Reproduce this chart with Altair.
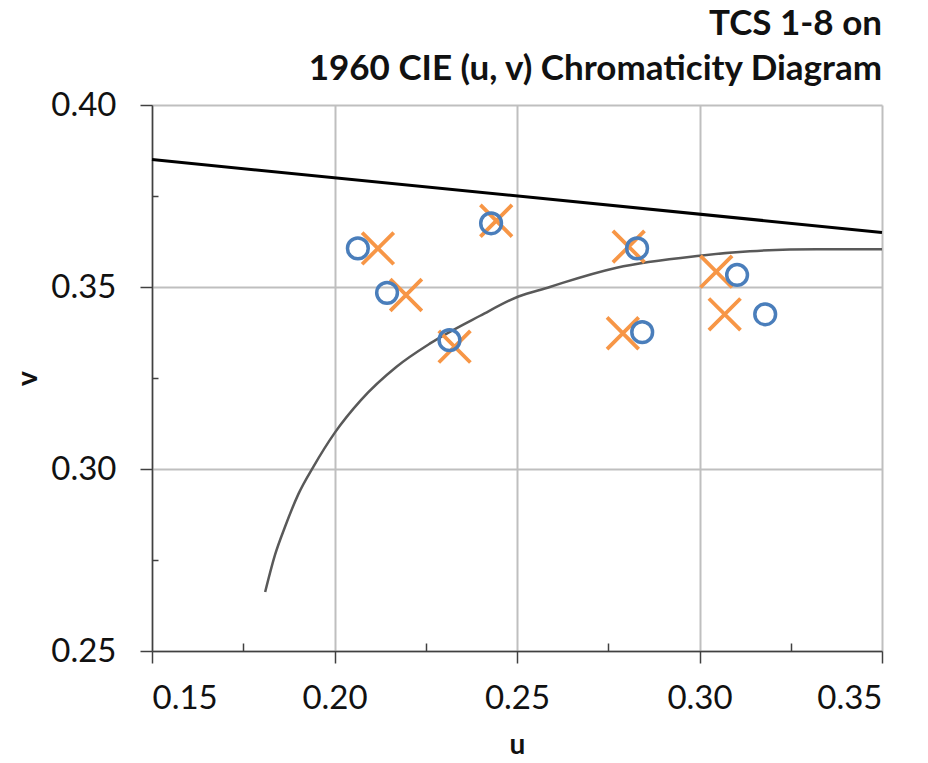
import altair as alt
import pandas as pd

# TCS 1-8 chromaticities (blue open circles)
circle_u = [0.2064, 0.2144, 0.2315, 0.2429, 0.2829, 0.2843, 0.3103, 0.3180]
circle_v = [0.3606, 0.3484, 0.3354, 0.3675, 0.3606, 0.3376, 0.3533, 0.3425]
# second set (orange crosses)
cross_u = [0.2119, 0.2196, 0.2329, 0.2443, 0.2806, 0.2790, 0.3046, 0.3069]
cross_v = [0.3606, 0.3478, 0.3336, 0.3682, 0.3611, 0.3373, 0.3542, 0.3425]
# Planckian locus (grey curve)
locus_u = [0.1810, 0.1837, 0.1864, 0.1901, 0.1942, 0.2001, 0.2073, 0.2170, 0.2262,
           0.2399, 0.2504, 0.2590, 0.2627, 0.2773, 0.3001, 0.3138, 0.3321, 0.3500]
locus_v = [0.2662, 0.2764, 0.2840, 0.2931, 0.3006, 0.3100, 0.3190, 0.3281, 0.3345,
           0.3421, 0.3474, 0.3500, 0.3512, 0.3553, 0.3586, 0.3598, 0.3604, 0.3604]
# straight black line
line_u = [0.15, 0.35]
line_v = [0.385, 0.365]

x_major = [0.15, 0.20, 0.25, 0.30, 0.35]
x_minor = [0.175, 0.225, 0.275, 0.325]
y_major = [0.25, 0.30, 0.35, 0.40]
y_minor = [0.275, 0.325, 0.375]

circles = pd.DataFrame({"u": circle_u, "v": circle_v})
crosses = pd.DataFrame({"u": cross_u, "v": cross_v})
locus = pd.DataFrame({"u": locus_u, "v": locus_v, "o": list(range(len(locus_u)))})
line = pd.DataFrame({"u": line_u, "v": line_v})

FONT = "Lato"
xscale = alt.Scale(domain=[0.15, 0.35], nice=False, zero=False)
yscale = alt.Scale(domain=[0.25, 0.40], nice=False, zero=False)

xaxis = alt.Axis(values=x_major, format=".2f", title="u", grid=True,
                 gridColor="#bfbfbf", gridWidth=2, domainColor="#404040", domainWidth=1.5,
                 tickColor="#404040", tickWidth=1.5, tickSize=12, labelPadding=19,
                 labelFont=FONT, labelFontSize=33, labelColor="#111111",
                 titleFont=FONT, titleFontSize=28, titleFontWeight="bold",
                 titleColor="#111111", titlePadding=16)
yaxis = alt.Axis(values=y_major, format=".2f", title="v", grid=True,
                 gridColor="#bfbfbf", gridWidth=2, domainColor="#404040", domainWidth=1.5,
                 tickColor="#404040", tickWidth=1.5, tickSize=12, labelPadding=24,
                 labelFont=FONT, labelFontSize=33, labelColor="#111111",
                 titleFont=FONT, titleFontSize=28, titleFontWeight="bold",
                 titleColor="#111111", titlePadding=8)

X = alt.X("u:Q", scale=xscale, axis=xaxis)
Y = alt.Y("v:Q", scale=yscale, axis=yaxis)

locus_layer = alt.Chart(locus).mark_line(
    color="#595959", strokeWidth=2.5, interpolate="monotone").encode(
    x=X, y=Y, order="o:Q")
cross_layer = alt.Chart(crosses).mark_point(
    shape="M-1,-1L1,1M-1,1L1,-1", size=1000, filled=False, stroke="#f79646",
    strokeWidth=3.8, opacity=1).encode(x=X, y=Y)
circle_layer = alt.Chart(circles).mark_point(
    shape="circle", size=430, filled=False, stroke="#4a7ebb",
    strokeWidth=3.5, opacity=1).encode(x=X, y=Y)

main = alt.layer(locus_layer, cross_layer, circle_layer)

xminor = alt.Axis(values=x_minor, orient="bottom", offset=-8, tickSize=8, tickWidth=1.5,
                  tickColor="#404040", labels=False, domain=False, grid=False, title=None)
yminor = alt.Axis(values=y_minor, orient="left", offset=-6, tickSize=6, tickWidth=1.5,
                  tickColor="#404040", labels=False, domain=False, grid=False, title=None)

line_layer = alt.Chart(line).mark_line(color="black", strokeWidth=3).encode(
    x=alt.X("u:Q", scale=xscale, axis=xminor),
    y=alt.Y("v:Q", scale=yscale, axis=yminor))

chart = alt.layer(main, line_layer).resolve_axis(
    x="independent", y="independent"
).properties(
    width=730, height=546,
    padding={"left": 144, "top": 97, "right": 30, "bottom": 112},
    autosize=alt.AutoSizeParams(type="none"),
    title=alt.TitleParams(
        text=["TCS 1-8 on", "1960 CIE (u, v) Chromaticity Diagram"],
        anchor="end", frame="group", font=FONT, fontSize=35, fontWeight="bold",
        lineHeight=45, offset=2, color="#111111"),
    background="white",
).configure_view(stroke=None)

chart.save("out.html", embed_options={"renderer": "svg", "actions": False})
